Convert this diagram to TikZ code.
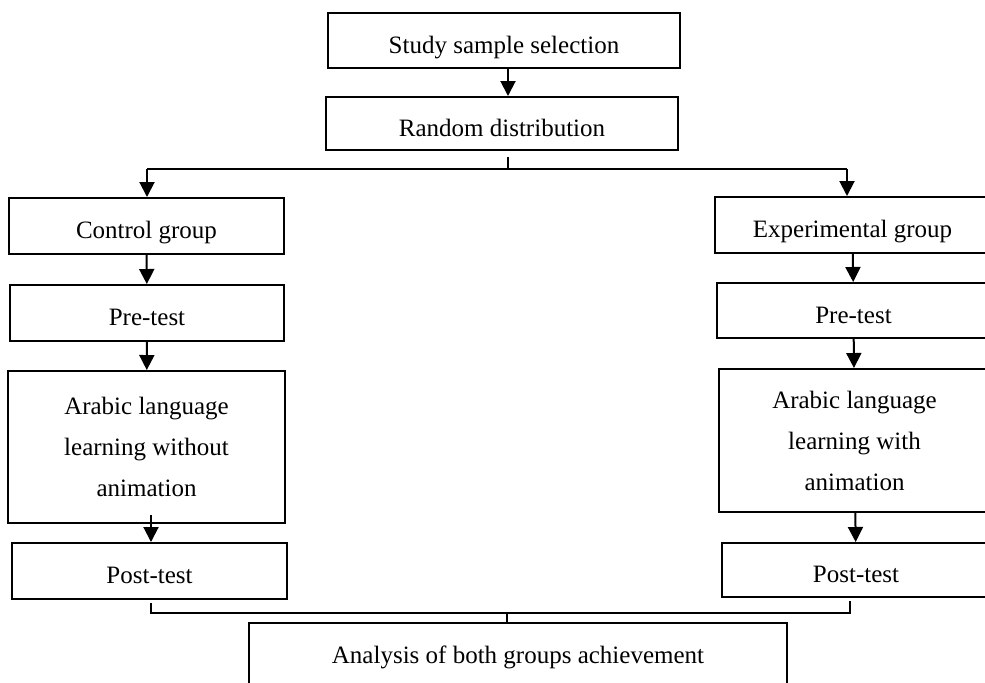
\documentclass[tikz,border=0pt]{standalone}
\usepackage{fontspec}
\setmainfont{Liberation Serif}
\usetikzlibrary{arrows.meta}

\begin{document}
\begin{tikzpicture}[x=0.5pt,y=-0.5pt, line width=1pt,
	every node/.style={draw, line width=1pt, align=center, inner sep=0pt,
		font=\fontsize{12.5}{20.5}\selectfont},
	onebox/.style={text height=15.5pt, text depth=2.7pt},
	>={Triangle[width=7.5pt,length=7.5pt]}]
	
	\clip (0,0) rectangle (985,682);
	
	\node[onebox, minimum width=176pt, minimum height=27.5pt] (sample) at (504,40.5) {Study sample selection};
	\node[onebox, minimum width=176pt, minimum height=26.5pt] (random) at (502,123.5) {Random distribution};
	\node[onebox, minimum width=137.5pt, minimum height=28pt] (control) at (146.5,226) {Control group};
	\node[onebox, minimum width=137.5pt, minimum height=28pt] (expt) at (852.5,225) {Experimental group};
	\node[onebox, minimum width=137pt, minimum height=28pt] (preC) at (147,313) {Pre-test};
	\node[onebox, minimum width=136.5pt, minimum height=27.5pt] (preE) at (853.5,310.5) {Pre-test};
	\node[minimum width=138.5pt, minimum height=76pt] (arabC) at (146.5,447) {Arabic language\\ learning without\\ animation};
	\node[minimum width=135.5pt, minimum height=71.5pt] (arabE) at (854.5,440.5) {Arabic language\\ learning with\\ animation};
	\node[onebox, minimum width=137.5pt, minimum height=28pt] (postC) at (149.5,571) {Post-test};
	\node[onebox, minimum width=134pt, minimum height=27pt] (postE) at (856,570) {Post-test};
	\node[minimum width=269pt, minimum height=34pt] (analysis) at (518,657) {Analysis of both groups achievement};
	
	\coordinate (tick) at (508,157);
	\coordinate (split) at (508,169);
	\coordinate (lsplit) at (147,169);
	\coordinate (rsplit) at (847,169);
	\coordinate (lmerge) at (151,613);
	\coordinate (rmerge) at (850,613);
	\coordinate (merge) at (507,613);
	
	\draw[->] (sample.south -| tick) -- (random.north -| tick);
	\draw (tick) -- (split);
	\draw (lsplit) -- (rsplit);
	\draw[->] (lsplit) -- (lsplit |- control.north);
	\draw[->] (rsplit) -- (rsplit |- expt.north);
	
	\path[->] (control) edge (preC);
	\path[->] (expt) edge (preE);
	\path[->] (preC) edge (arabC);
	\path[->] (preE) edge (arabE);
	\draw[->] ([yshift=4.5pt]arabC.south -| lmerge) -- (postC.north -| lmerge);
	\path[->] (arabE) edge (postE);
	
	\draw ([yshift=-1.5pt]postC.south -| lmerge) -- (lmerge) -- (rmerge) -- ([yshift=-1.5pt]postE.south -| rmerge);
	\draw (merge) -- (analysis.north -| merge);
	
\end{tikzpicture}
\end{document}
